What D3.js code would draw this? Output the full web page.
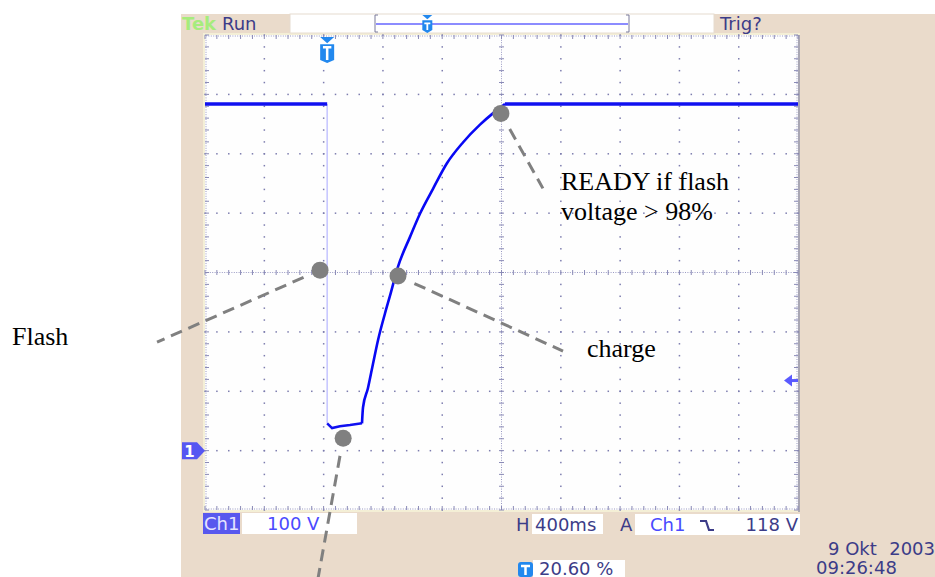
<!DOCTYPE html>
<html>
<head>
<meta charset="utf-8">
<script src="https://cdn.jsdelivr.net/npm/d3@7"></script>
<style>
  body { margin: 0; background: #fff; }
  svg { display: block; }
  .scope { font-family: "DejaVu Sans", sans-serif; font-size: 18px; }
  .note { font-family: "Liberation Serif", "Times New Roman", serif; font-size: 26px; fill: #000; }
</style>
</head>
<body>
<svg id="chart" width="935" height="577"></svg>
<script>
"use strict";

// scope settings
const msPerDiv = 400;
const voltsPerDiv = 100;
const triggerPct = 20.60;
const triggerLevel = 118;
const tStart = -triggerPct / 100 * 10 * msPerDiv;   // left edge of screen (ms from trigger)
const vBottom = -100;                               // ground is one div above the bottom

// Ch1 trace: time from trigger (ms) and volts
const timeMs = [-824, 0, 0, 33, 86, 154, 235, 242, 275, 309, 343, 390, 424, 478,
  559, 626, 714, 808, 916, 1031, 1118, 1165, 1199, 3176];
const volts = [584, 584, 46, 38, 41, 43, 46, 73, 105, 146, 186, 231, 261, 310,
  360, 399, 441, 484, 519, 549, 568, 577, 584, 584];

// annotation points on the trace
const noteTime = [-48, 478, 1172, 108];
const noteVolts = [304, 294, 568, 21];
const noteLabels = [["Flash"], ["charge"], ["READY if flash", "voltage > 98%"], []];

// status texts
const topTexts = ["Tek", "Run", "Trig?"];
const chLabel = "Ch1";
const scaleLabel = "100 V";
const timeLabel = "400ms";
const levelLabel = "118 V";
const posLabel = "20.60 %";
const dateLabel = ["9 Okt", "2003"];
const timeOfDay = "09:26:48";

const navy = '#3c3c88';
const chBlue = '#4a4aff';
const tBlue = '#2288ee';

const svg = d3.select('#chart');

const plotL = 205, plotR = 798, plotT = 35, plotB = 510;
const x = d3.scaleLinear().domain([tStart, tStart + 10 * msPerDiv]).range([plotL, plotR]);
const y = d3.scaleLinear().domain([vBottom, vBottom + 8 * voltsPerDiv]).range([plotB, plotT]);

// scope background
svg.append('rect').attr('x', 181).attr('y', 14).attr('width', 935 - 181).attr('height', 577 - 14)
  .attr('fill', '#eadbcb');
svg.append('rect').attr('x', plotL - 2).attr('y', plotT - 2).attr('width', plotR - plotL + 4)
  .attr('height', plotB - plotT + 4).attr('fill', '#f4efd6');
svg.append('rect').attr('x', plotL).attr('y', plotT).attr('width', plotR - plotL)
  .attr('height', plotB - plotT).attr('fill', '#fefefe');
svg.append('rect').attr('x', plotR).attr('y', plotT).attr('width', 2)
  .attr('height', plotB - plotT + 2).attr('fill', '#a9a7b3');

// graticule
const divX = d3.range(0, 11).map(k => tStart + k * msPerDiv);
const divY = d3.range(0, 9).map(k => vBottom + k * voltsPerDiv);
const subX = d3.range(0, 51).map(k => tStart + k * msPerDiv / 5);
const subY = d3.range(0, 41).map(k => vBottom + k * voltsPerDiv / 5);
const midT = divX[5], midV = divY[4];
const gridColor = '#7c7cae';

let grid = svg.append('g');

let dots = [];
divX.slice(1, 10).filter(t => t !== midT).forEach(t => {
  subY.forEach(v => dots.push([x(t), y(v)]));
});
divY.slice(1, 8).filter(v => v !== midV).forEach(v => {
  subX.forEach(t => dots.push([x(t), y(v)]));
});
grid.selectAll('rect.dot').data(dots).enter().append('rect')
  .attr('class', 'dot')
  .attr('x', d => d[0] - 0.7).attr('y', d => d[1] - 0.7)
  .attr('width', 1.5).attr('height', 1.5)
  .attr('fill', gridColor);

// center cross + edges: fine dotted lines
let fineLines = [
  [x(midT), plotT, x(midT), plotB],
  [plotL, y(midV), plotR, y(midV)],
  [plotL + 1, plotT + 1, plotR - 1, plotT + 1],
  [plotL + 1, plotB - 1, plotR - 1, plotB - 1],
  [plotL + 1, plotT, plotL + 1, plotB],
  [plotR - 1, plotT, plotR - 1, plotB]
];
grid.selectAll('line.fine').data(fineLines).enter().append('line')
  .attr('class', 'fine')
  .attr('x1', d => d[0]).attr('y1', d => d[1]).attr('x2', d => d[2]).attr('y2', d => d[3])
  .attr('stroke', '#9a9ac4').attr('stroke-width', 1).attr('stroke-dasharray', '1,1.4');

// tick marks
let ticks = [];
subX.forEach(t => {
  ticks.push([x(t), y(midV) - 2.5, x(t), y(midV) + 2.5]);
  ticks.push([x(t), plotT, x(t), plotT + 4]);
  ticks.push([x(t), plotB - 4, x(t), plotB]);
});
subY.forEach(v => {
  ticks.push([x(midT) - 2.5, y(v), x(midT) + 2.5, y(v)]);
  ticks.push([plotL, y(v), plotL + 4, y(v)]);
  ticks.push([plotR - 4, y(v), plotR, y(v)]);
});
grid.selectAll('line.tick').data(ticks).enter().append('line')
  .attr('class', 'tick')
  .attr('x1', d => d[0]).attr('y1', d => d[1]).attr('x2', d => d[2]).attr('y2', d => d[3])
  .attr('stroke', '#8a8ab6').attr('stroke-width', 1);

// trace
const trace = timeMs.map((t, i) => [t, volts[i]]);
const line = d3.line().x(d => x(d[0])).y(d => y(d[1]));
const smooth = d3.line().x(d => x(d[0])).y(d => y(d[1])).curve(d3.curveMonotoneX);

svg.append('path').datum(trace.slice(1, 3))
  .attr('d', line).attr('fill', 'none')
  .attr('stroke', '#c4c4ff').attr('stroke-width', 1.5);
svg.append('path').datum(trace.slice(0, 2))
  .attr('d', line).attr('fill', 'none')
  .attr('stroke', '#1010f0').attr('stroke-width', 3.5);
svg.append('path').datum(trace.slice(2, 7))
  .attr('d', line).attr('fill', 'none')
  .attr('stroke', '#1010f0').attr('stroke-width', 2.5);
svg.append('path').datum(trace.slice(6, 23))
  .attr('d', smooth).attr('fill', 'none')
  .attr('stroke', '#0808f4').attr('stroke-width', 2.6);
svg.append('path').datum(trace.slice(22))
  .attr('d', line).attr('fill', 'none')
  .attr('stroke', '#1010f0').attr('stroke-width', 3.5);

// T marker helper (down triangle over a shield with a T)
function tMarker(g, cx, top, w, h) {
  let tri = h * 0.24;
  g.append('path')
    .attr('d', 'M' + (cx - w / 2) + ',' + top + 'H' + (cx + w / 2) + 'L' + cx + ',' + (top + tri) + 'Z')
    .attr('fill', tBlue);
  let s = top + tri + 1;
  let b = top + h;
  g.append('path')
    .attr('d', 'M' + (cx - w / 2) + ',' + s + 'H' + (cx + w / 2) + 'V' + (b - 3) +
      'L' + cx + ',' + b + 'L' + (cx - w / 2) + ',' + (b - 3) + 'Z')
    .attr('fill', tBlue);
  g.append('path')
    .attr('d', 'M' + (cx - w * 0.3) + ',' + (s + 3) + 'H' + (cx + w * 0.3) +
      'M' + cx + ',' + (s + 3) + 'V' + (b - 3))
    .attr('stroke', '#fff').attr('stroke-width', w * 0.18).attr('fill', 'none');
}

tMarker(svg.append('g'), x(0), 37, 14, 26);

// Ch1 ground marker on the left
let gy = y(0);
svg.append('path')
  .attr('d', 'M182,' + (gy - 8.5) + 'H197L205,' + gy + 'L197,' + (gy + 8.5) + 'H182Z')
  .attr('fill', '#5656f2');
svg.append('text').attr('x', 189.5).attr('y', gy + 6).attr('text-anchor', 'middle')
  .attr('font-family', 'DejaVu Sans, sans-serif').attr('font-weight', 'bold')
  .attr('font-size', 15).attr('fill', '#fff').text('1');

// trigger level arrow on the right
let ty = y(triggerLevel);
svg.append('path')
  .attr('d', 'M784,' + ty + 'L792,' + (ty - 6) + 'V' + (ty + 6) + 'Z')
  .attr('fill', '#5a5aff');
svg.append('rect').attr('x', 790).attr('y', ty - 1.5).attr('width', 8).attr('height', 3)
  .attr('fill', '#5a5aff');

// top status bar
let topBar = svg.append('g').attr('class', 'scope');
topBar.append('text').attr('x', 182).attr('y', 30).attr('fill', '#a6ec7c')
  .attr('font-weight', 'bold').text(topTexts[0]);
topBar.append('text').attr('x', 222).attr('y', 30).attr('fill', navy).text(topTexts[1]);
topBar.append('rect').attr('x', 290).attr('y', 14).attr('width', 424).attr('height', 19)
  .attr('fill', '#fff').attr('stroke', '#e6dccf');
const barL = 375, barR = 629;
topBar.append('line').attr('x1', barL + 1).attr('x2', barR - 1).attr('y1', 24).attr('y2', 24)
  .attr('stroke', '#8c8cff').attr('stroke-width', 2);
topBar.append('path')
  .attr('d', 'M' + (barL + 3) + ',15H' + barL + 'V32H' + (barL + 3) +
    'M' + (barR - 3) + ',15H' + barR + 'V32H' + (barR - 3))
  .attr('stroke', '#7a7a9a').attr('stroke-width', 1).attr('fill', 'none');
tMarker(topBar, barL + triggerPct / 100 * (barR - barL), 15, 10, 18);
topBar.append('text').attr('x', 720).attr('y', 30).attr('fill', navy).text(topTexts[2]);

// bottom status bar
let bot = svg.append('g').attr('class', 'scope');
bot.append('rect').attr('x', 203).attr('y', 513).attr('width', 37).attr('height', 21).attr('fill', '#5858ee');
bot.append('text').attr('x', 204).attr('y', 530).attr('fill', '#e4e4ff').text(chLabel);
bot.append('rect').attr('x', 242).attr('y', 513).attr('width', 115).attr('height', 21).attr('fill', '#fff');
bot.append('text').attr('x', 267).attr('y', 530).attr('fill', chBlue).text(scaleLabel);

bot.append('text').attr('x', 516).attr('y', 531).attr('fill', navy).text('H');
bot.append('rect').attr('x', 532).attr('y', 514).attr('width', 71).attr('height', 20).attr('fill', '#fff');
bot.append('text').attr('x', 535).attr('y', 531).attr('fill', navy).text(timeLabel);

bot.append('text').attr('x', 620).attr('y', 531).attr('fill', navy).text('A');
bot.append('rect').attr('x', 635).attr('y', 514).attr('width', 165).attr('height', 21).attr('fill', '#fff');
bot.append('text').attr('x', 650).attr('y', 531).attr('fill', chBlue).text(chLabel);
bot.append('path').attr('d', 'M700,521H706L709,530H714')
  .attr('stroke', navy).attr('stroke-width', 2.2).attr('fill', 'none');
bot.append('text').attr('x', 798).attr('y', 531).attr('text-anchor', 'end').attr('fill', navy).text(levelLabel);

// trigger position readout
bot.append('rect').attr('x', 518).attr('y', 562).attr('width', 15).attr('height', 15).attr('rx', 3).attr('fill', tBlue);
bot.append('path').attr('d', 'M521,566H530M525.5,566V575')
  .attr('stroke', '#fff').attr('stroke-width', 2.5).attr('fill', 'none');
bot.append('rect').attr('x', 533).attr('y', 560).attr('width', 92).attr('height', 17).attr('fill', '#fff');
bot.append('text').attr('x', 539).attr('y', 575).attr('fill', navy).text(posLabel);

bot.append('text').attr('x', 828).attr('y', 555).attr('fill', navy).text(dateLabel[0]);
bot.append('text').attr('x', 935).attr('y', 555).attr('text-anchor', 'end').attr('fill', navy).text(dateLabel[1]);
bot.append('text').attr('x', 816).attr('y', 574).attr('fill', navy).text(timeOfDay);

// annotations: leader end offsets (px) from each point, and label anchors
const leaderEnd = [[-163, 72], [165, 75], [42, 75], [-26, 145]];
const labelPos = [[12, 345], [587, 357], [561, 190], [0, 0]];
const noteGap = 18;

let notes = svg.append('g');
noteTime.forEach((t, i) => {
  let cx = x(t), cy = y(noteVolts[i]);
  let dx = leaderEnd[i][0], dy = leaderEnd[i][1];
  let len = Math.sqrt(dx * dx + dy * dy);
  notes.append('line')
    .attr('x1', cx + dx / len * noteGap).attr('y1', cy + dy / len * noteGap)
    .attr('x2', cx + dx).attr('y2', cy + dy)
    .attr('stroke', '#808080').attr('stroke-width', 3)
    .attr('stroke-dasharray', '12,7');
  notes.append('circle').attr('cx', cx).attr('cy', cy).attr('r', 8.5)
    .attr('fill', '#808080');
  noteLabels[i].forEach((s, j) => {
    notes.append('text').attr('class', 'note')
      .attr('x', labelPos[i][0]).attr('y', labelPos[i][1] + j * 30)
      .text(s);
  });
});
</script>
</body>
</html>
